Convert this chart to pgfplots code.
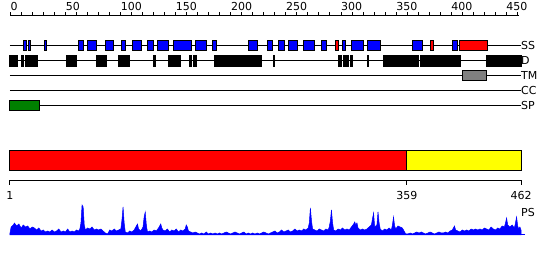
\documentclass[border=0pt]{standalone}
\usepackage{pgfplots}
\pgfplotsset{compat=1.18}
\usepackage{fontspec}
\setmainfont{DejaVu Sans}
\definecolor{ssblue}{RGB}{0,0,255}
\definecolor{ssred}{RGB}{255,0,0}
\definecolor{spgreen}{RGB}{0,128,0}
\definecolor{tmgray}{RGB}{128,128,128}
\definecolor{dyellow}{RGB}{255,255,0}
\newcommand{\lbl}{\fontsize{11}{13}\selectfont}
\pgfplotsset{base/.style={width=550pt,height=260pt,scale only axis,hide axis,clip=false,
  y dir=reverse,ymin=0,ymax=260}}
\begin{document}
\begin{tikzpicture}
% ---------- top ruler (0..462) ----------
\begin{axis}[base,xmin=-9.53,xmax=489.7]
\path (rel axis cs:0,0) rectangle (rel axis cs:1,1);
\addplot[black,line width=1pt] coordinates {(0,15) (462,15)};
\pgfplotsinvokeforeach{0,10,...,460}{
  \addplot[black,line width=1pt] coordinates {(#1,15) (#1,12)};
}
\pgfplotsinvokeforeach{0,50,...,450}{
  \node[font=\lbl,anchor=base west,inner sep=0pt] at (axis cs:#1,10.5) {#1};
}
\end{axis}
% ---------- features (1..462) ----------
\begin{axis}[base,xmin=-8.02,xmax=488.16]
% row lines
\addplot[black,line width=1pt] coordinates {(1,45) (462,45)};
\addplot[black,line width=1pt] coordinates {(1,60) (462,60)};
\addplot[black,line width=1pt] coordinates {(1,75) (462,75)};
\addplot[black,line width=1pt] coordinates {(1,90) (462,90)};
\addplot[black,line width=1pt] coordinates {(1,105) (462,105)};
% SS boxes
\addplot[fill=ssblue,draw=black,line width=1pt] coordinates {(13,40) (16.1,40) (16.1,50) (13,50)} -- cycle;
\addplot[fill=ssblue,draw=black,line width=1pt] coordinates {(17.5,40) (19.7,40) (19.7,50) (17.5,50)} -- cycle;
\addplot[fill=ssblue,draw=black,line width=1pt] coordinates {(31.9,40) (33.7,40) (33.7,50) (31.9,50)} -- cycle;
\addplot[fill=ssblue,draw=black,line width=1pt] coordinates {(63.2,40) (67.1,40) (67.1,50) (63.2,50)} -- cycle;
\addplot[fill=ssblue,draw=black,line width=1pt] coordinates {(70.7,40) (78.6,40) (78.6,50) (70.7,50)} -- cycle;
\addplot[fill=ssblue,draw=black,line width=1pt] coordinates {(87.6,40) (94.5,40) (94.5,50) (87.6,50)} -- cycle;
\addplot[fill=ssblue,draw=black,line width=1pt] coordinates {(101.4,40) (105.4,40) (105.4,50) (101.4,50)} -- cycle;
\addplot[fill=ssblue,draw=black,line width=1pt] coordinates {(111.3,40) (119.8,40) (119.8,50) (111.3,50)} -- cycle;
\addplot[fill=ssblue,draw=black,line width=1pt] coordinates {(124.9,40) (130.9,40) (130.9,50) (124.9,50)} -- cycle;
\addplot[fill=ssblue,draw=black,line width=1pt] coordinates {(133.9,40) (143.8,40) (143.8,50) (133.9,50)} -- cycle;
\addplot[fill=ssblue,draw=black,line width=1pt] coordinates {(148.3,40) (164.9,40) (164.9,50) (148.3,50)} -- cycle;
\addplot[fill=ssblue,draw=black,line width=1pt] coordinates {(168.2,40) (178.4,40) (178.4,50) (168.2,50)} -- cycle;
\addplot[fill=ssblue,draw=black,line width=1pt] coordinates {(183.5,40) (187.5,40) (187.5,50) (183.5,50)} -- cycle;
\addplot[fill=ssblue,draw=black,line width=1pt] coordinates {(216.6,40) (224.5,40) (224.5,50) (216.6,50)} -- cycle;
\addplot[fill=ssblue,draw=black,line width=1pt] coordinates {(233.1,40) (238.0,40) (238.0,50) (233.1,50)} -- cycle;
\addplot[fill=ssblue,draw=black,line width=1pt] coordinates {(243.0,40) (248.4,40) (248.4,50) (243.0,50)} -- cycle;
\addplot[fill=ssblue,draw=black,line width=1pt] coordinates {(252.4,40) (260.2,40) (260.2,50) (252.4,50)} -- cycle;
\addplot[fill=ssblue,draw=black,line width=1pt] coordinates {(265.6,40) (275.5,40) (275.5,50) (265.6,50)} -- cycle;
\addplot[fill=ssblue,draw=black,line width=1pt] coordinates {(281.8,40) (286.7,40) (286.7,50) (281.8,50)} -- cycle;
\addplot[fill=ssred,draw=black,line width=1pt] coordinates {(294.5,40) (297.5,40) (297.5,50) (294.5,50)} -- cycle;
\addplot[fill=ssblue,draw=black,line width=1pt] coordinates {(301.4,40) (304.1,40) (304.1,50) (301.4,50)} -- cycle;
\addplot[fill=ssblue,draw=black,line width=1pt] coordinates {(308.9,40) (320.1,40) (320.1,50) (308.9,50)} -- cycle;
\addplot[fill=ssblue,draw=black,line width=1pt] coordinates {(323.3,40) (335.1,40) (335.1,50) (323.3,50)} -- cycle;
\addplot[fill=ssblue,draw=black,line width=1pt] coordinates {(363.9,40) (372.9,40) (372.9,50) (363.9,50)} -- cycle;
\addplot[fill=ssred,draw=black,line width=1pt] coordinates {(379.9,40) (383.2,40) (383.2,50) (379.9,50)} -- cycle;
\addplot[fill=ssblue,draw=black,line width=1pt] coordinates {(400.6,40) (404.9,40) (404.9,50) (400.6,50)} -- cycle;
\addplot[fill=ssred,draw=black,line width=1pt] coordinates {(406.1,40) (431.9,40) (431.9,50) (406.1,50)} -- cycle;
% D (disorder) boxes
\addplot[fill=black,draw=black,line width=1pt] coordinates {(1.0,55) (7.9,55) (7.9,66) (1.0,66)} -- cycle;
\addplot[fill=black,draw=black,line width=1pt] coordinates {(11.6,55) (13.4,55) (13.4,66) (11.6,66)} -- cycle;
\addplot[fill=black,draw=black,line width=1pt] coordinates {(15.4,55) (17.9,55) (17.9,66) (15.4,66)} -- cycle;
\addplot[fill=black,draw=black,line width=1pt] coordinates {(19.0,55) (26.0,55) (26.0,66) (19.0,66)} -- cycle;
\addplot[fill=black,draw=black,line width=1pt] coordinates {(52.4,55) (57.6,55) (57.6,66) (52.4,66)} -- cycle;
\addplot[fill=black,draw=black,line width=1pt] coordinates {(58.7,55) (61.4,55) (61.4,66) (58.7,66)} -- cycle;
\addplot[fill=black,draw=black,line width=1pt] coordinates {(78.9,55) (88.2,55) (88.2,66) (78.9,66)} -- cycle;
\addplot[fill=black,draw=black,line width=1pt] coordinates {(98.7,55) (109.0,55) (109.0,66) (98.7,66)} -- cycle;
\addplot[fill=black,draw=black,line width=1pt] coordinates {(130.9,55) (132.0,55) (132.0,66) (130.9,66)} -- cycle;
\addplot[fill=black,draw=black,line width=1pt] coordinates {(143.8,55) (155.0,55) (155.0,66) (143.8,66)} -- cycle;
\addplot[fill=black,draw=black,line width=1pt] coordinates {(162.5,55) (164.9,55) (164.9,66) (162.5,66)} -- cycle;
\addplot[fill=black,draw=black,line width=1pt] coordinates {(166.4,55) (169.7,55) (169.7,66) (166.4,66)} -- cycle;
\addplot[fill=black,draw=black,line width=1pt] coordinates {(185.9,55) (228.1,55) (228.1,66) (185.9,66)} -- cycle;
\addplot[fill=black,draw=black,line width=1pt] coordinates {(238.3,55) (239.3,55) (239.3,66) (238.3,66)} -- cycle;
\addplot[fill=black,draw=black,line width=1pt] coordinates {(297.2,55) (300.2,55) (300.2,66) (297.2,66)} -- cycle;
\addplot[fill=black,draw=black,line width=1pt] coordinates {(302.3,55) (306.8,55) (306.8,66) (302.3,66)} -- cycle;
\addplot[fill=black,draw=black,line width=1pt] coordinates {(308.6,55) (309.8,55) (309.8,66) (308.6,66)} -- cycle;
\addplot[fill=black,draw=black,line width=1pt] coordinates {(323.1,55) (324.3,55) (324.3,66) (323.1,66)} -- cycle;
\addplot[fill=black,draw=black,line width=1pt] coordinates {(337.8,55) (369.7,55) (369.7,66) (337.8,66)} -- cycle;
\addplot[fill=black,draw=black,line width=1pt] coordinates {(370.9,55) (407.6,55) (407.6,66) (370.9,66)} -- cycle;
\addplot[fill=black,draw=black,line width=1pt] coordinates {(431.0,55) (462.0,55) (462.0,66) (431.0,66)} -- cycle;
% TM
\addplot[fill=tmgray,draw=black,line width=1pt] coordinates {(409.0,70.5) (431.0,70.5) (431.0,80.5) (409.0,80.5)} -- cycle;
% SP
\addplot[fill=spgreen,draw=black,line width=1pt] coordinates {(1.0,100) (27.8,100) (27.8,110) (1.0,110)} -- cycle;
% row labels
\node[font=\lbl,anchor=west,inner sep=0pt] at (axis cs:462,45) {SS};
\node[font=\lbl,anchor=west,inner sep=0pt] at (axis cs:462,60) {D};
\node[font=\lbl,anchor=west,inner sep=0pt] at (axis cs:462,75) {TM};
\node[font=\lbl,anchor=west,inner sep=0pt] at (axis cs:462,90) {CC};
\node[font=\lbl,anchor=west,inner sep=0pt] at (axis cs:462,105) {SP};
% domain bar
\addplot[fill=ssred,draw=black,line width=1pt] coordinates {(1,150) (359,150) (359,170) (1,170)} -- cycle;
\addplot[fill=dyellow,draw=black,line width=1pt] coordinates {(359,150) (462,150) (462,170) (359,170)} -- cycle;
% lower ruler
\addplot[black,line width=1pt] coordinates {(1,180) (462,180)};
\pgfplotsinvokeforeach{1,359,462}{
  \addplot[black,line width=1pt] coordinates {(#1,180) (#1,185)};
  \node[font=\lbl,anchor=base,inner sep=0pt] at (axis cs:#1,199) {#1};
}
\node[font=\lbl,anchor=west,inner sep=0pt] at (axis cs:462,212) {PS};
\end{axis}
% ---------- PS profile ----------
\begin{axis}[width=550pt,height=260pt,scale only axis,hide axis,clip=false,
  xmin=-8.02,xmax=488.16,ymin=-25,ymax=235]
\addplot[fill=ssblue,draw=ssblue,line width=0.5pt] coordinates {
(1,0) (1,2) (2,8) (4,10) (5,12) (7,9) (9,11) (11,7) (13,10) (15,8) (17,9) (19,6) (21,8) (23,7) (25,5) (27,7)
(29,4) (31,5) (33,3) (35,4) (37,3) (39,5) (41,3) (43,4) (45,6) (47,3) (49,4) (51,3) (53,6) (55,3) (57,4)
(59,3) (61,5) (63,4) (64,6) (65,12) (66,30) (67,28) (68,10) (69,5) (71,7) (73,6) (75,8) (77,5) (79,6)
(81,5) (83,6) (85,4) (87,2) (89,1) (91,5) (93,4) (95,6) (97,4) (99,5) (101,6) (102,15) (103,28) (104,12)
(105,3) (107,2) (109,4) (111,3) (113,5) (115,9) (116,11) (117,6) (119,4) (121,8) (122,18) (123,23) (124,10)
(125,3) (127,4) (129,3) (131,5) (133,4) (135,7) (136,9) (137,11) (138,7) (139,5) (141,4) (143,6) (145,3)
(147,5) (149,4) (151,6) (153,3) (155,5) (157,4) (159,6) (160,10) (161,8) (162,4) (164,3) (166,2) (168,3)
(170,2) (172,1) (174,2) (176,1) (178,3) (180,1) (182,2) (184,1) (186,2) (188,1) (190,2) (192,1) (194,2)
(196,3) (198,2) (200,1) (202,2) (204,3) (206,2) (208,1) (210,2) (212,3) (214,1) (216,2) (218,1) (220,2)
(222,1) (224,2) (226,1) (228,2) (230,3) (232,2) (234,1) (236,2) (238,3) (240,4) (242,2) (244,3) (246,5)
(248,3) (250,4) (252,5) (254,3) (256,4) (258,6) (260,4) (262,5) (264,4) (266,6) (268,5) (270,7) (271,12)
(272,27) (273,14) (274,6) (276,5) (278,4) (280,6) (282,5) (284,4) (286,6) (288,5) (289,8) (290,14) (291,25)
(292,12) (293,5) (295,4) (297,6) (299,5) (301,7) (303,5) (305,6) (307,5) (309,8) (311,11) (312,13) (313,10)
(314,12) (315,7) (317,5) (319,6) (321,5) (323,6) (325,8) (327,10) (328,16) (329,22) (330,8) (332,10)
(333,23) (334,12) (335,6) (337,4) (339,6) (341,5) (343,7) (345,5) (346,10) (347,18) (348,9) (349,6) (351,9)
(353,8) (355,7) (357,3) (358,1) (360,1) (362,2) (364,1) (366,2) (368,3) (370,2) (372,3) (374,2) (376,1)
(378,2) (380,3) (382,2) (384,1) (386,2) (388,3) (390,2) (392,2) (394,3) (396,2) (398,4) (400,5) (401,7)
(402,9) (403,5) (405,4) (407,3) (409,5) (411,4) (413,5) (415,4) (417,6) (419,5) (421,6) (423,5) (425,6)
(427,5) (429,7) (431,6) (433,5) (435,8) (437,6) (439,5) (441,7) (443,6) (445,9) (447,8) (448,12) (449,17)
(450,10) (452,8) (454,10) (456,7) (457,12) (458,18) (459,9) (460,6) (461,8) (462,5) (462,0)} -- cycle;
\addplot[ssblue,line width=1pt] coordinates {(1,0) (466,0)};
\end{axis}
\end{tikzpicture}
\end{document}
